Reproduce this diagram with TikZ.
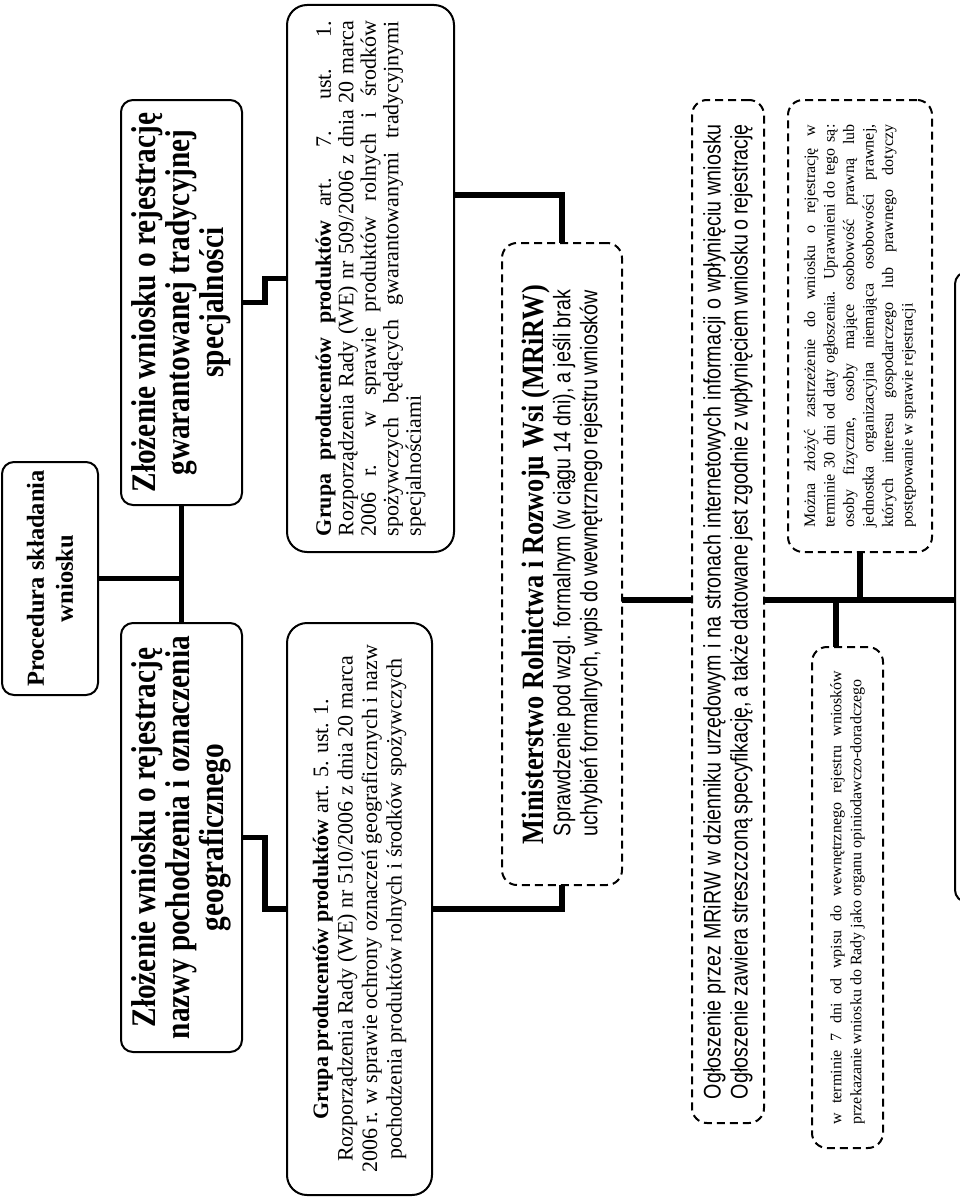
\documentclass[tikz,border=0pt]{standalone}
\usepackage{fontspec}
\usepackage{graphicx}
\setmainfont{Liberation Serif}
\newfontfamily\narrowsans{Liberation Sans}[FakeStretch=0.82]
\newfontfamily\condserif{Liberation Serif}[FakeStretch=0.85]
\newcommand\myrot[2]{\rotatebox{90}{\begin{minipage}{#1}#2\end{minipage}}}
\newcommand\jline[1]{\makebox[\linewidth][s]{#1}}
\begin{document}
\begin{tikzpicture}[x=1pt,y=-1pt,
  box/.style={draw, line width=2pt, rounded corners=12pt, inner sep=0pt, outer sep=0pt},
  dbox/.style={box, dash pattern=on 8pt off 5pt, rounded corners=15pt},
  conn/.style={line width=5.5pt}]
\fill[white] (0,0) rectangle (960,1199);
\useasboundingbox (0,0) rectangle (960,1199);

\node[box, minimum width=96pt, minimum height=233pt] (proc) at (50,578.5)
  {\myrot{228pt}{\centering\fontsize{24.5}{29}\selectfont\bfseries Procedura składania\\wniosku}};

\node[box, minimum width=121pt, minimum height=405pt] (tsg) at (181.5,302.5)
  {\myrot{398pt}{\centering\condserif\bfseries\fontsize{34.5}{34}\selectfont Złożenie wniosku o rejestrację\\gwarantowanej tradycyjnej\\specjalności}};

\node[box, minimum width=121pt, minimum height=429pt] (chnp) at (181.5,837.5)
  {\myrot{420pt}{\centering\condserif\bfseries\fontsize{34.5}{34}\selectfont Złożenie wniosku o rejestrację\\nazwy pochodzenia i oznaczenia\\geograficznego}};

\node[box, rounded corners=20pt, minimum width=167pt, minimum height=547pt] (g509) at (370.5,278.5)
  {\myrot{515pt}{\fontsize{22}{22.5}\selectfont
   \jline{\textbf{Grupa producentów produktów} art. 7. ust. 1.}\\
   \jline{Rozporządzenia Rady (WE) nr 509/2006 z dnia 20 marca}\\
   \jline{2006 r. w sprawie produktów rolnych i środków}\\
   \jline{spożywczych będących gwarantowanymi tradycyjnymi}\\
   specjalnościami}};

\node[box, rounded corners=20pt, minimum width=145pt, minimum height=572pt] (g510) at (359.5,909)
  {\myrot{560pt}{\centering\fontsize{22}{24.5}\selectfont
   \textbf{Grupa producentów produktów} art. 5. ust. 1.\\
   Rozporządzenia Rady (WE) nr 510/2006 z dnia 20 marca\\
   2006 r. w sprawie ochrony oznaczeń geograficznych i nazw\\
   pochodzenia produktów rolnych i środków spożywczych}};

\node[dbox, minimum width=120pt, minimum height=642pt] (mrirw) at (562,564)
  {\myrot{560pt}{\raggedright\fontsize{24}{27}\selectfont
   {\condserif\bfseries\fontsize{31}{27}\selectfont Ministerstwo Rolnictwa i Rozwoju Wsi (MRiRW)}\\
   \narrowsans\hspace*{8pt}\makebox[546pt][s]{Sprawdzenie pod wzgl. formalnym (w ciągu 14 dni), a jeśli brak}\\
   \hspace*{8pt}\makebox[546pt][s]{uchybień formalnych, wpis do wewnętrznego rejestru wniosków}}};

\node[dbox, minimum width=72pt, minimum height=1023pt] (oglo) at (728,611.5)
  {\myrot{975pt}{\narrowsans\fontsize{24}{27}\selectfont
   \jline{Ogłoszenie przez MRiRW w dzienniku urzędowym i na stronach internetowych informacji o wpłynięciu wniosku}\\
   \jline{Ogłoszenie zawiera streszczoną specyfikację, a także datowane jest zgodnie z wpłynięciem wniosku o rejestrację}}};

\node[dbox, minimum width=144pt, minimum height=452pt] (mozna) at (860,326)
  {\myrot{403pt}{\fontsize{16}{19.5}\selectfont
   \jline{Można złożyć zastrzeżenie do wniosku o rejestrację w}\\
   \jline{terminie 30 dni od daty ogłoszenia. Uprawnieni do tego są:}\\
   \jline{osoby fizyczne, osoby mające osobowość prawną lub}\\
   \jline{jednostka organizacyjna niemająca osobowości prawnej,}\\
   \jline{których interesu gospodarczego lub prawnego dotyczy}\\
   \makebox[\linewidth][l]{postępowanie w sprawie rejestracji}}};

\node[dbox, minimum width=71pt, minimum height=501pt] (wterm) at (847.5,897.5)
  {\myrot{454pt}{\fontsize{16}{20}\selectfont
   \jline{w terminie 7 dni od wpisu do wewnętrznego rejestru wniosków}\\
   \makebox[\linewidth][l]{przekazanie wniosku do Rady jako organu opiniodawczo-doradczego}}};

\node[box, minimum width=200pt, minimum height=630pt] (bigbox) at (1055,587) {};

\coordinate (tr) at (0,600);
\draw[conn] (proc.east) -- (proc.east -| tsg.south);
\draw[conn] (tsg.south) -- (chnp.north);
\draw[conn] (tsg.east) -- ++(23,0) |- (g509.west);
\draw[conn] (chnp.east) -- ++(23,0) |- (g510.west);
\draw[conn] ([yshift=83.5pt]g509.east) -| (mrirw.north);
\draw[conn] (g510.east) -| (mrirw.south);
\draw[conn] (mrirw.east |- tr) -- (oglo.west |- tr);
\draw[conn] (oglo.east |- tr) -- (bigbox.west |- tr);
\draw[conn] (mozna.south) -- (mozna.south |- tr);
\draw[conn] ([xshift=-11.5pt]wterm.north) -- ([xshift=-11.5pt]wterm.north |- tr);
\end{tikzpicture}
\end{document}
